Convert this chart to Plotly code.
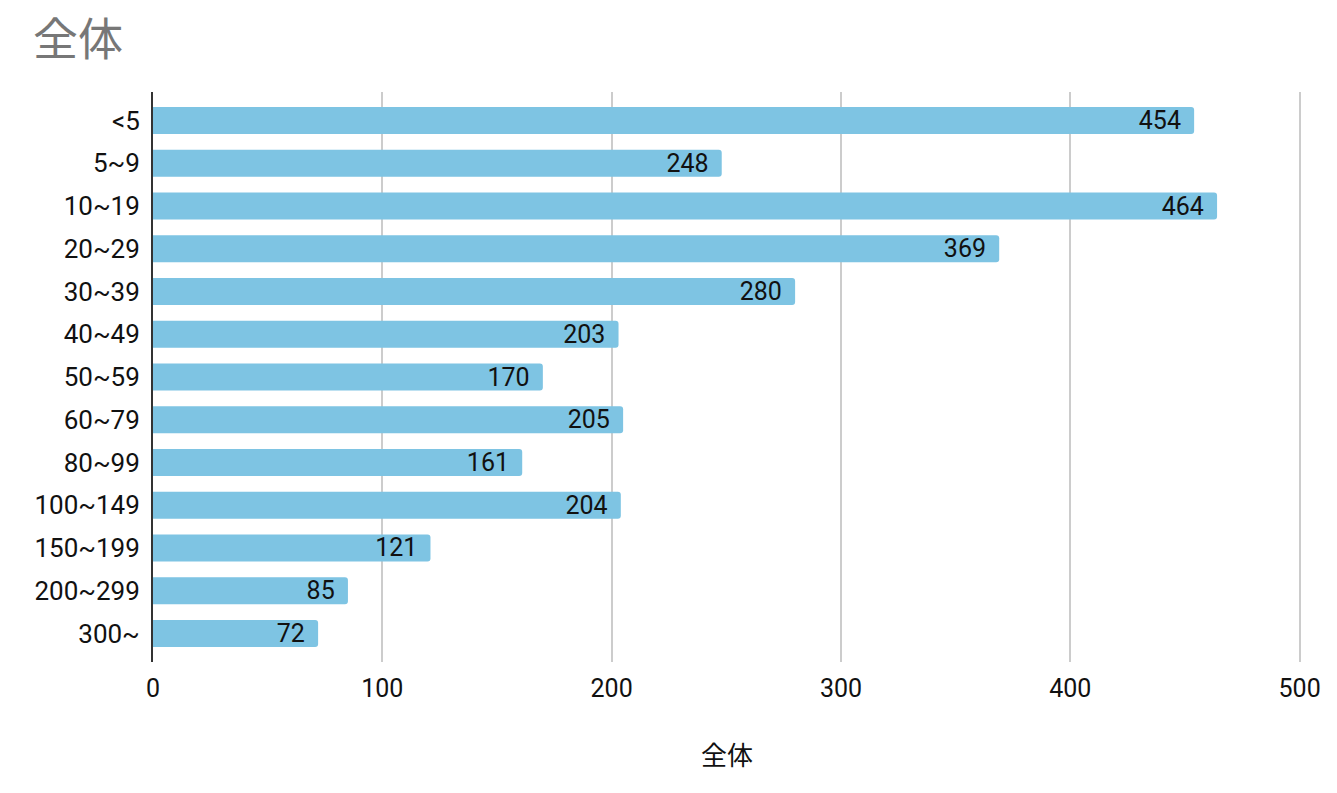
import plotly.graph_objects as go

categories = ["<5", "5~9", "10~19", "20~29", "30~39", "40~49", "50~59",
              "60~79", "80~99", "100~149", "150~199", "200~299", "300~"]
values = [454, 248, 464, 369, 280, 203, 170, 205, 161, 204, 121, 85, 72]
x_ticks = [0, 100, 200, 300, 400, 500]
title_text = "全体"
x_title = "全体"

FONT = "Roboto, 'Noto Sans CJK JP', sans-serif"
CJK = "'Noto Sans CJK JP', sans-serif"
n = len(categories)

W, H = 1329, 785

fig = go.Figure(go.Bar(
    x=values,
    y=categories,
    orientation="h",
    width=0.63,
    marker=dict(color="#7ec4e3", line=dict(width=0), cornerradius=3),
    text=values,
    texttemplate="%{x}\u2009\u2009",
    textposition="inside",
    insidetextanchor="end",
    constraintext="none",
    textfont=dict(family=FONT, size=25, color="#111111"),
    hoverinfo="x+y",
))

fig.update_layout(
    width=W, height=H,
    margin=dict(l=145, r=36, t=84, b=131),
    paper_bgcolor="white",
    plot_bgcolor="white",
    showlegend=False,
    title=dict(
        text=title_text,
        x=25 / W, xref="container", xanchor="left",
        y=1 - 32 / H, yref="container", yanchor="middle",
        font=dict(family=CJK, size=45, color="#777777"),
    ),
    font=dict(family=FONT, size=25, color="#111111"),
)

fig.update_xaxes(
    range=[0, 500.6],
    tickvals=x_ticks,
    ticktext=[str(v) for v in x_ticks],
    showgrid=True, gridcolor="#cccccc", gridwidth=2,
    zeroline=False,
    showline=False,
    ticks="",
    ticklabelstandoff=9,
    tickfont=dict(family=FONT, size=25, color="#111111"),
    title=dict(text=x_title, font=dict(family=CJK, size=26, color="#111111"), standoff=44),
)

fig.update_yaxes(
    type="category",
    categoryorder="array",
    categoryarray=categories,
    range=[n - 1 + 0.667, -0.667],
    showgrid=False,
    showline=True, linecolor="#333333", linewidth=2,
    ticks="",
    ticklabelstandoff=6,
    tickfont=dict(family=FONT, size=26, color="#111111"),
)

fig.write_html("out.html")
